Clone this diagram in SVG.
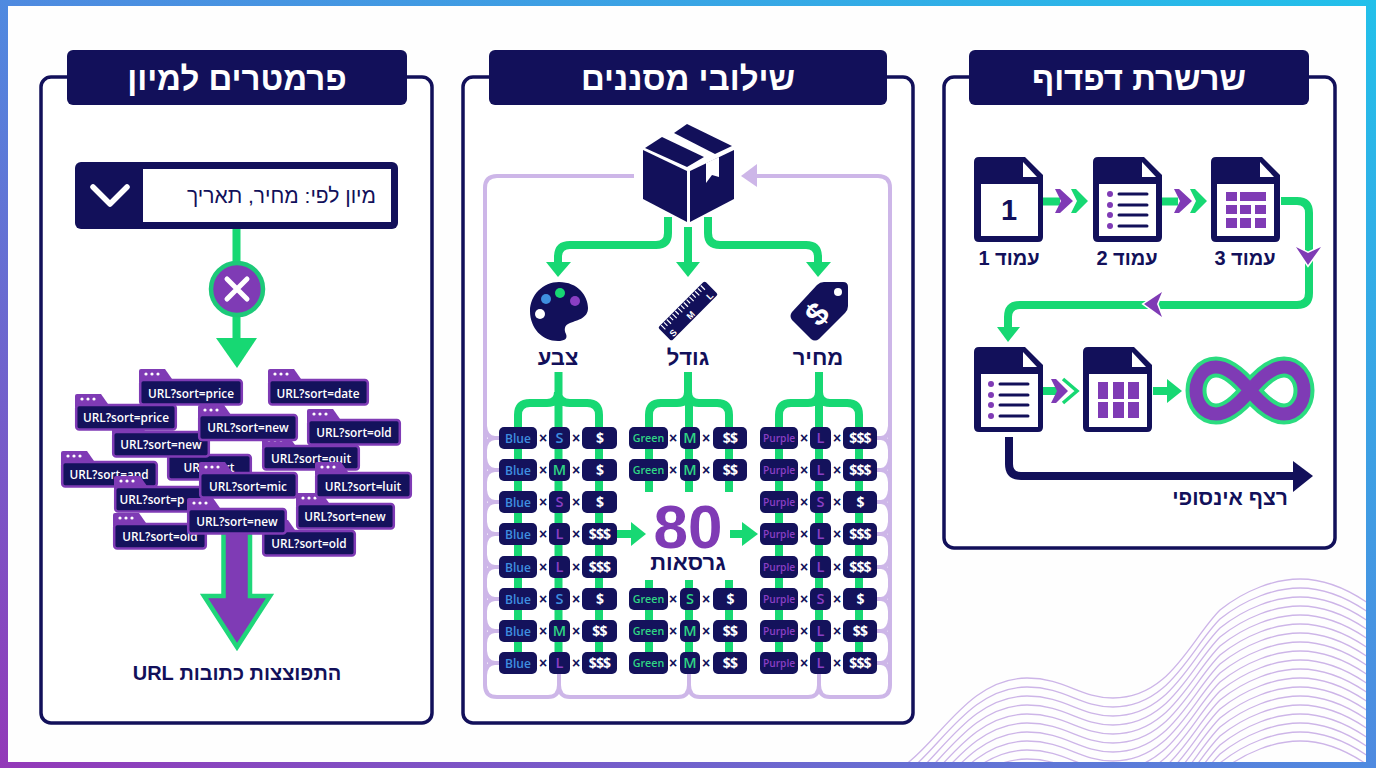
<svg xmlns="http://www.w3.org/2000/svg" width="1376" height="768" viewBox="0 0 1376 768">
<style>
text{font-family:"Liberation Sans","DejaVu Sans",sans-serif}
.panel{fill:#fff;stroke:#12105a;stroke-width:3.5}
.navy{fill:#12105a}
.purple{fill:#7f3bb5}
.green{fill:#17d873}
.white{fill:#fff}
.title{font-size:33px;font-weight:700;fill:#fff;text-anchor:middle;direction:rtl}
.lab{font-weight:700;fill:#12105a;text-anchor:middle;direction:rtl}
.gl{fill:none;stroke:#17d873;stroke-width:8}
.nl{fill:none;stroke:#12105a;stroke-width:8}
.lav{fill:none;stroke:#cdb6e8;stroke-width:4}
.wave{fill:none;stroke:#cdb5e8;stroke-width:1.3}
.u{font-family:"Open Sans",sans-serif;font-size:11.8px;font-weight:600;fill:#fff;text-anchor:middle}
.ub{fill:#14125c;stroke:#7f3bb5;stroke-width:2.5}
.d{fill:#fff}
.c{fill:#14125c}
.t{font-family:"Open Sans",sans-serif;font-size:12px;font-weight:600;text-anchor:middle}
.tg{font-family:"Open Sans",sans-serif;font-size:10.7px;font-weight:600;text-anchor:middle}
.tp{font-family:"Open Sans",sans-serif;font-size:10.2px;font-weight:600;text-anchor:middle}
.k{font-family:"Open Sans",sans-serif;font-size:14.5px;font-weight:600;text-anchor:middle}
.m{font-family:"Open Sans",sans-serif;font-size:14px;font-weight:700;text-anchor:middle;fill:#fff;letter-spacing:-.8px}
.x{font-size:14px;font-weight:700;text-anchor:middle;fill:#12105a}
.b{fill:#3f8fe0}.g{fill:#2fd584}.p{fill:#8a3fc4}
</style>
<defs>
<linearGradient id="fr" x1="0" y1="1" x2="1" y2="0"><stop offset="0" stop-color="#9338b8"/><stop offset=".5" stop-color="#4f8ae0"/><stop offset="1" stop-color="#22c0ea"/></linearGradient>
<clipPath id="in"><rect x="8" y="6" width="1358" height="756"/></clipPath>
<path id="w" class="wave" d="M905 765C940 740 970 678 1027 678C1065 678 1080 698 1113 698C1170 698 1190 640 1220 610C1245 590 1275 579 1300 579C1325 579 1350 590 1372 606"/>
<g id="tab"><path class="purple" d="M0 13V2q0-2 2-2h24l7 10v3z"/><circle class="d" cx="7" cy="5" r="1.6"/><circle class="d" cx="13" cy="5" r="1.6"/><circle class="d" cx="19" cy="5" r="1.6"/></g>
<g id="cl"><rect class="c" x="499" y="-11" width="38" height="22" rx="5"/><rect class="c" x="549" y="-11" width="21" height="22" rx="5"/><rect class="c" x="582" y="-11" width="35" height="22" rx="5"/><text class="x" x="543" y="5">×</text><text class="x" x="576" y="5">×</text></g>
<g id="cm"><rect class="c" x="629" y="-11" width="39" height="22" rx="5"/><rect class="c" x="680" y="-11" width="20" height="22" rx="5"/><rect class="c" x="713" y="-11" width="34" height="22" rx="5"/><text class="x" x="673" y="5">×</text><text class="x" x="706" y="5">×</text></g>
<g id="cr"><rect class="c" x="760" y="-11" width="38" height="22" rx="5"/><rect class="c" x="810" y="-11" width="21" height="22" rx="5"/><rect class="c" x="843" y="-11" width="34" height="22" rx="5"/><text class="x" x="804" y="5">×</text><text class="x" x="837" y="5">×</text></g>
<path id="doc" class="navy" d="M5 0H51L69 18V80q0 5-5 5H5q-5 0-5-5V5q0-5 5-5z"/>
<path id="fold" class="white" d="M49 5V20H63z"/>
</defs>
<rect width="1376" height="768" fill="url(#fr)"/>
<rect x="8" y="6" width="1358" height="756" fill="#fefefe"/>
<g id="waves" clip-path="url(#in)">
<use href="#w"/><use href="#w" y="9"/><use href="#w" y="18"/><use href="#w" y="27"/><use href="#w" y="36"/><use href="#w" y="45"/><use href="#w" y="54"/><use href="#w" y="63"/><use href="#w" y="72"/><use href="#w" y="81"/><use href="#w" y="90"/><use href="#w" y="99"/><use href="#w" y="108"/><use href="#w" y="117"/><use href="#w" y="126"/><use href="#w" y="135"/><use href="#w" y="144"/><use href="#w" y="153"/><use href="#w" y="162"/>
</g>

<g id="panel-sort">
<rect class="panel" x="41" y="77" width="391" height="646" rx="10"/>
<rect class="navy" x="67" y="50" width="340" height="55" rx="6"/>
<text class="title" x="237" y="90">פרמטרים למיון</text>
</g>
<g id="panel-filter">
<rect class="panel" x="463" y="77" width="450" height="646" rx="10"/>
<rect class="navy" x="489" y="50" width="398" height="55" rx="6"/>
<text class="title" x="688" y="90">שילובי מסננים</text>
</g>
<g id="panel-paging">
<rect class="panel" x="944" y="77" width="391" height="471" rx="10"/>
<rect class="navy" x="969" y="50" width="340" height="55" rx="6"/>
<text class="title" x="1139" y="90">שרשרת דפדוף</text>
</g>

<g id="connectors">
<path class="gl" d="M236.500 229V340"/>
<polygon class="green" points="216,338 257,338 237,368"/>
<polygon fill="#7f3bb5" stroke="#1fd67a" stroke-width="4.500" points="223.500,530 250,530 250,596 270,596 237,647 204,596 223.500,596"/>
<path class="lav" d="M634 176H497Q485 176 485 188V685Q485 697 497 697H548Q559 697 559 685V673M559 685Q559 697 570 697H678Q689 697 689 685V673M689 685Q689 697 700 697H808Q819 697 819 685V673M819 685Q819 697 830 697H878Q890 697 890 685V188Q890 176 878 176H755"/>
<path class="lav" d="M499 438h-4q-9 0-10-12M499 438h-4q-9 0-10 12M499 470h-4q-9 0-10-12M499 470h-4q-9 0-10 12M499 502h-4q-9 0-10-12M499 502h-4q-9 0-10 12M499 534h-4q-9 0-10-12M499 534h-4q-9 0-10 12M499 567h-4q-9 0-10-12M499 567h-4q-9 0-10 12M499 599h-4q-9 0-10-12M499 599h-4q-9 0-10 12M499 631h-4q-9 0-10-12M499 631h-4q-9 0-10 12M499 663h-4q-9 0-10-12M499 663h-4q-9 0-10 12M877 438h4q8 0 9-12M877 438h4q8 0 9 12M877 470h4q8 0 9-12M877 470h4q8 0 9 12M877 502h4q8 0 9-12M877 502h4q8 0 9 12M877 534h4q8 0 9-12M877 534h4q8 0 9 12M877 567h4q8 0 9-12M877 567h4q8 0 9 12M877 599h4q8 0 9-12M877 599h4q8 0 9 12M877 631h4q8 0 9-12M877 631h4q8 0 9 12M877 663h4q8 0 9-12M877 663h4q8 0 9 12"/>
<polygon fill="#cdb6e8" points="741,176 757,164 757,187"/>
<path class="gl" d="M668 217V233Q668 245 656 245H570Q558 245 558 257V264M688 227V264M708 217V233Q708 245 720 245H806Q818 245 818 257V264"/>
<polygon class="green" points="546,262 571,262 558,277"/>
<polygon class="green" points="676,262 700,262 688,277"/>
<polygon class="green" points="806,262 831,262 818,277"/>
<path class="gl" d="M558.500 372V663M518 663V415Q518 403 530 403H547Q558 403 558 392M599 663V415Q599 403 587 403H570Q558 403 558 392"/>
<path class="gl" d="M688 372V403M649 492V415Q649 403 661 403H677Q688 403 688 392M729 492V415Q729 403 717 403H699Q688 403 688 392M689 403V492M649 580V663M689 580V663M729 580V663"/>
<path class="gl" d="M819 372V663M779 663V415Q779 403 791 403H808Q819 403 819 392M859 663V415Q859 403 847 403H830Q819 403 819 392"/>
<path class="gl" d="M617 534H634M730 534H745"/>
<polygon class="green" points="631,522 646,534 631,546"/>
<polygon class="green" points="742,522 758,534 742,546"/>
<path class="gl" d="M1043 201.500H1060M1162 201.500H1178"/>
<polygon class="purple" points="1055,189 1060,189 1073,201 1060,213 1055,213 1061,201"/>
<polygon class="green" points="1071,189 1076,189 1088,201 1076,213 1071,213 1077,201"/>
<polygon class="purple" points="1174,189 1179,189 1192,201 1179,213 1174,213 1180,201"/>
<polygon class="green" points="1190,189 1195,189 1207,201 1195,213 1190,213 1196,201"/>
<path class="gl" d="M1281 201H1297Q1309 201 1309 213V293Q1309 305 1297 305H1020Q1008 305 1008 317V330"/>
<polygon class="purple" stroke="#fff" stroke-width="3" style="paint-order:stroke" points="1296,247 1308,253 1321,247 1308,265"/>
<polygon class="purple" stroke="#fff" stroke-width="3" style="paint-order:stroke" points="1144,304 1162,292 1157,304 1162,317"/>
<polygon class="green" points="997,327 1020,327 1008,342"/>
<path class="gl" d="M1043 391H1058M1153 391H1170"/>
<polygon class="purple" points="1051,379 1056,379 1068,391 1056,403 1051,403 1057,391"/>
<path fill="none" stroke="#17d873" stroke-width="3.500" d="M1063 379L1077 391L1063 403"/>
<polygon class="green" points="1167,379 1182,391 1167,403"/>
<path class="nl" d="M1009 437V464Q1009 476 1021 476H1295"/>
<polygon class="navy" points="1293,461 1313,476 1293,492"/>
</g>

<g id="dropdown">
<rect class="navy" x="75" y="162" width="323" height="67" rx="6"/>
<rect class="white" x="143" y="169" width="248" height="53"/>
<path fill="none" stroke="#fff" stroke-width="5.500" stroke-linecap="round" stroke-linejoin="round" d="M93 187L110 204L127 187"/>
<text x="376" y="203" font-size="21" fill="#12105a" direction="rtl">מיון לפי: מחיר, תאריך</text>
</g>
<g id="cross">
<circle cx="237" cy="289" r="26" fill="#7f3bb5" stroke="#1dc979" stroke-width="4.500"/>
<path fill="none" stroke="#fff" stroke-width="5" stroke-linecap="round" d="M227 279L247 299M247 279L227 299"/>
</g>
<g id="url-chips">
<g id="u9" transform="translate(167,444)"><use href="#tab"/><rect class="ub" x="1.200" y="11" width="82.600" height="24.500" rx="3"/><text class="u" x="42" y="27.500">URL?sort</text></g>
<g id="u4" transform="translate(112,421)"><use href="#tab"/><rect class="ub" x="1.200" y="11" width="95.600" height="24.500" rx="3"/><text class="u" x="49" y="28">URL?sort=new</text></g>
<g id="u3" transform="translate(75,394)"><use href="#tab"/><rect class="ub" x="1.200" y="11" width="99.600" height="24.500" rx="3"/><text class="u" x="51" y="28">URL?sort=price</text></g>
<g id="u1" transform="translate(139,369)"><use href="#tab"/><rect class="ub" x="1.200" y="11" width="101.600" height="24.500" rx="3"/><text class="u" x="52" y="29">URL?sort=price</text></g>
<g id="u2" transform="translate(268,369)"><use href="#tab"/><rect class="ub" x="1.200" y="11" width="98.600" height="24.500" rx="3"/><text class="u" x="50" y="29">URL?sort=date</text></g>
<g id="u7" transform="translate(262,435)"><use href="#tab"/><rect class="ub" x="1.200" y="11" width="95.600" height="23.500" rx="3"/><text class="u" x="49" y="28">URL?sort=ouit</text></g>
<g id="u5" transform="translate(198,405)"><use href="#tab"/><rect class="ub" x="1.200" y="10" width="97.600" height="25" rx="3"/><text class="u" x="50" y="27">URL?sort=new</text></g>
<g id="u6" transform="translate(307,409)"><use href="#tab"/><rect class="ub" x="1.200" y="11" width="91.600" height="24.500" rx="3"/><text class="u" x="47" y="28">URL?sort=old</text></g>
<g id="u8" transform="translate(61,451)"><use href="#tab"/><rect class="ub" x="1.200" y="11" width="94.600" height="24.500" rx="3"/><text class="u" x="48" y="28">URL?sort=and</text></g>
<g id="u12" transform="translate(114,476)"><use href="#tab"/><rect class="ub" x="1.200" y="11" width="95.600" height="24.500" rx="3"/><text class="u" x="38" y="28">URL?sort=p</text></g>
<g id="u15" transform="translate(113,513)"><use href="#tab"/><rect class="ub" x="1.200" y="11" width="91.600" height="24.500" rx="3"/><text class="u" x="47" y="28">URL?sort=old</text></g>
<g id="u16" transform="translate(262,520)"><use href="#tab"/><rect class="ub" x="1.200" y="11" width="91.600" height="24.500" rx="3"/><text class="u" x="47" y="28">URL?sort=old</text></g>
<g id="u13" transform="translate(296,493)"><use href="#tab"/><rect class="ub" x="1.200" y="11" width="96.600" height="24.500" rx="3"/><text class="u" x="49" y="28">URL?sort=new</text></g>
<g id="u10" transform="translate(199,462)"><use href="#tab"/><rect class="ub" x="1.200" y="11" width="96.600" height="24.500" rx="3"/><text class="u" x="49" y="29">URL?sort=mic</text></g>
<g id="u11" transform="translate(315,462)"><use href="#tab"/><rect class="ub" x="1.200" y="11" width="94.600" height="24.500" rx="3"/><text class="u" x="48" y="29">URL?sort=luit</text></g>
<g id="u14" transform="translate(187,498)"><use href="#tab"/><rect class="ub" x="1.200" y="11" width="97.600" height="24.500" rx="3"/><text class="u" x="50" y="28">URL?sort=new</text></g>
</g>
<g id="burst-label"><text class="lab" x="237" y="680" font-size="20">התפוצצות כתובות URL</text></g>

<g id="product">
<polygon class="navy" points="643,150 687,171 687,222 643,199"/>
<polygon class="navy" points="690,171 734,150 734,199 690,222"/>
<polygon class="navy" points="645,148 662,137 704,157 687,167"/>
<polygon class="navy" points="674,133 687,124 732,146 715,154"/>
<polygon class="white" points="706,163 719,157 719,177 712,175 706,183"/>
</g>
<g id="color">
<path class="navy" d="M559 282C578 282 588 296 588 308C588 318 578 320 570 323C564 325 564 330 566 334C568 339 564 341 558 341C542 341 530 328 530 311C530 295 543 282 559 282Z"/>
<circle cx="546" cy="299" r="5" fill="#3f8fe0"/><circle cx="560" cy="293" r="5" fill="#17d873"/><circle cx="575" cy="301" r="5" fill="#8a3fc4"/><circle cx="540" cy="314" r="5" fill="#fff"/>
<text class="lab" x="558" y="365" font-size="22">צבע</text>
</g>
<g id="size">
<g transform="translate(688,311) rotate(-45)">
<rect class="navy" x="-33" y="-9.500" width="66" height="19" rx="2"/>
<path stroke="#fff" stroke-width="1.200" d="M-29-9V-3M-25-9V-4M-21-9V-3M-17-9V-4M-13-9V-3M-9-9V-4M-5-9V-3M-1-9V-4M3-9V-3M7-9V-4M11-9V-3M15-9V-4M19-9V-3M23-9V-4M27-9V-3"/>
<text x="-26" y="8" font-size="9" font-weight="700" fill="#fff" text-anchor="middle">S</text>
<text x="-1" y="8" font-size="9" font-weight="700" fill="#fff" text-anchor="middle">M</text>
<text x="26" y="8" font-size="9" font-weight="700" fill="#fff" text-anchor="middle">L</text>
</g>
<text class="lab" x="688" y="365" font-size="22">גודל</text>
</g>
<g id="price">
<path class="navy" d="M817 285Q820 282 824 282H843Q848 282 848 287V306Q848 310 845 313L819 339Q815 342 811 339L792 320Q789 316 792 312Z"/>
<circle cx="838" cy="292" r="4" fill="#fff"/>
<text x="0" y="11" transform="translate(817,314) rotate(-48)" font-size="32" font-weight="700" fill="#fff" text-anchor="middle">$</text>
<text class="lab" x="818" y="365" font-size="22">מחיר</text>
</g>

<g id="combos-left">
<g id="l1" transform="translate(0,438)"><use href="#cl"/><text class="t b" x="518" y="4.500">Blue</text><text class="k b" x="559.500" y="5">S</text><text class="m" x="599.500" y="5">$</text></g>
<g id="l2" transform="translate(0,470)"><use href="#cl"/><text class="t b" x="518" y="4.500">Blue</text><text class="k g" x="559.500" y="5">M</text><text class="m" x="599.500" y="5">$</text></g>
<g id="l3" transform="translate(0,502)"><use href="#cl"/><text class="t b" x="518" y="4.500">Blue</text><text class="k p" x="559.500" y="5">S</text><text class="m" x="599.500" y="5">$</text></g>
<g id="l4" transform="translate(0,534)"><use href="#cl"/><text class="t b" x="518" y="4.500">Blue</text><text class="k p" x="559.500" y="5">L</text><text class="m" x="599.500" y="5">$$$</text></g>
<g id="l5" transform="translate(0,567)"><use href="#cl"/><text class="t b" x="518" y="4.500">Blue</text><text class="k p" x="559.500" y="5">L</text><text class="m" x="599.500" y="5">$$$</text></g>
<g id="l6" transform="translate(0,599)"><use href="#cl"/><text class="t b" x="518" y="4.500">Blue</text><text class="k b" x="559.500" y="5">S</text><text class="m" x="599.500" y="5">$</text></g>
<g id="l7" transform="translate(0,631)"><use href="#cl"/><text class="t b" x="518" y="4.500">Blue</text><text class="k g" x="559.500" y="5">M</text><text class="m" x="599.500" y="5">$$</text></g>
<g id="l8" transform="translate(0,663)"><use href="#cl"/><text class="t b" x="518" y="4.500">Blue</text><text class="k p" x="559.500" y="5">L</text><text class="m" x="599.500" y="5">$$$</text></g>
</g>
<g id="combos-mid">
<g id="m1" transform="translate(0,438)"><use href="#cm"/><text class="tg g" x="648.500" y="4">Green</text><text class="k g" x="690" y="5">M</text><text class="m" x="730" y="5">$$</text></g>
<g id="m2" transform="translate(0,470)"><use href="#cm"/><text class="tg g" x="648.500" y="4">Green</text><text class="k g" x="690" y="5">M</text><text class="m" x="730" y="5">$$</text></g>
<g id="m6" transform="translate(0,599)"><use href="#cm"/><text class="tg g" x="648.500" y="4">Green</text><text class="k g" x="690" y="5">S</text><text class="m" x="730" y="5">$</text></g>
<g id="m7" transform="translate(0,631)"><use href="#cm"/><text class="tg g" x="648.500" y="4">Green</text><text class="k g" x="690" y="5">M</text><text class="m" x="730" y="5">$$</text></g>
<g id="m8" transform="translate(0,663)"><use href="#cm"/><text class="tg g" x="648.500" y="4">Green</text><text class="k g" x="690" y="5">M</text><text class="m" x="730" y="5">$$</text></g>
</g>
<g id="combos-right">
<g id="r1" transform="translate(0,438)"><use href="#cr"/><text class="tp p" x="779" y="4">Purple</text><text class="k p" x="820.500" y="5">L</text><text class="m" x="860" y="5">$$$</text></g>
<g id="r2" transform="translate(0,470)"><use href="#cr"/><text class="tp p" x="779" y="4">Purple</text><text class="k p" x="820.500" y="5">L</text><text class="m" x="860" y="5">$$$</text></g>
<g id="r3" transform="translate(0,502)"><use href="#cr"/><text class="tp p" x="779" y="4">Purple</text><text class="k p" x="820.500" y="5">S</text><text class="m" x="860" y="5">$</text></g>
<g id="r4" transform="translate(0,534)"><use href="#cr"/><text class="tp p" x="779" y="4">Purple</text><text class="k p" x="820.500" y="5">L</text><text class="m" x="860" y="5">$$$</text></g>
<g id="r5" transform="translate(0,567)"><use href="#cr"/><text class="tp p" x="779" y="4">Purple</text><text class="k p" x="820.500" y="5">L</text><text class="m" x="860" y="5">$$$</text></g>
<g id="r6" transform="translate(0,599)"><use href="#cr"/><text class="tp p" x="779" y="4">Purple</text><text class="k p" x="820.500" y="5">S</text><text class="m" x="860" y="5">$</text></g>
<g id="r7" transform="translate(0,631)"><use href="#cr"/><text class="tp p" x="779" y="4">Purple</text><text class="k p" x="820.500" y="5">L</text><text class="m" x="860" y="5">$$</text></g>
<g id="r8" transform="translate(0,663)"><use href="#cr"/><text class="tp p" x="779" y="4">Purple</text><text class="k p" x="820.500" y="5">L</text><text class="m" x="860" y="5">$$$</text></g>
</g>
<g id="count">
<text x="688" y="548" font-family="'Open Sans',sans-serif" font-size="62" font-weight="700" fill="#7f3bb5" text-anchor="middle">80</text>
<text class="lab" x="688" y="570" font-size="22">גרסאות</text>
</g>

<g id="page1" transform="translate(974,157)"><use href="#doc"/><use href="#fold"/><rect class="white" x="7" y="27" width="57" height="52"/><text x="35" y="63" font-size="29" font-weight="700" fill="#12105a" text-anchor="middle">1</text></g>
<text class="lab" x="1009" y="265" font-size="20">עמוד 1</text>
<g id="page2" transform="translate(1093,157)"><use href="#doc"/><use href="#fold"/><rect class="white" x="6" y="27" width="57" height="52"/>
<g class="purple"><circle cx="17" cy="37" r="3"/><circle cx="17" cy="48" r="3"/><circle cx="17" cy="58" r="3"/><circle cx="17" cy="69" r="3"/></g>
<path stroke="#12105a" stroke-width="3" stroke-linecap="round" d="M26 37H54M26 48H54M26 58H54M26 69H54"/></g>
<text class="lab" x="1127" y="265" font-size="20">עמוד 2</text>
<g id="page3" transform="translate(1211,157)"><use href="#doc"/><use href="#fold"/><rect class="white" x="6" y="27" width="57" height="52"/>
<g class="purple"><rect x="15" y="35" width="11" height="9"/><rect x="29" y="35" width="26" height="9"/><rect x="15" y="48" width="11" height="9"/><rect x="29" y="48" width="11" height="9"/><rect x="44" y="48" width="11" height="9"/><rect x="15" y="61" width="11" height="10"/><rect x="29" y="61" width="11" height="10"/><rect x="44" y="61" width="11" height="10"/></g></g>
<text class="lab" x="1245" y="265" font-size="20">עמוד 3</text>
<g id="page4" transform="translate(974,347)"><use href="#doc"/><use href="#fold"/><rect class="white" x="7" y="27" width="57" height="53"/>
<g class="purple"><circle cx="17" cy="37" r="3"/><circle cx="17" cy="48" r="3"/><circle cx="17" cy="58" r="3"/><circle cx="17" cy="69" r="3"/></g>
<path stroke="#12105a" stroke-width="3" stroke-linecap="round" d="M26 37H54M26 48H54M26 58H54M26 69H54"/></g>
<g id="page5" transform="translate(1083,347)"><use href="#doc"/><use href="#fold"/><rect class="white" x="6" y="27" width="58" height="53"/>
<g class="purple"><rect x="15" y="35" width="10" height="17"/><rect x="30" y="35" width="11" height="17"/><rect x="45" y="35" width="11" height="17"/><rect x="15" y="55" width="10" height="16"/><rect x="30" y="55" width="11" height="16"/><rect x="45" y="55" width="11" height="16"/></g></g>
<g id="infinity" fill="none">
<path stroke="#2bdc80" stroke-width="21" d="M1250 390.500C1238 376 1226 367 1216 367C1204 367 1196 378 1196 390.500C1196 403 1204 414 1216 414C1226 414 1238 405 1250 390.500C1262 376 1274 367 1284 367C1296 367 1304 378 1304 390.500C1304 403 1296 414 1284 414C1274 414 1262 405 1250 390.500Z"/>
<path stroke="#7f3bb5" stroke-width="13" d="M1250 390.500C1238 376 1226 367 1216 367C1204 367 1196 378 1196 390.500C1196 403 1204 414 1216 414C1226 414 1238 405 1250 390.500C1262 376 1274 367 1284 367C1296 367 1304 378 1304 390.500C1304 403 1296 414 1284 414C1274 414 1262 405 1250 390.500Z"/>
</g>
<g id="infinite-label"><text class="lab" x="1230" y="505" font-size="21">רצף אינסופי</text></g>
</svg>
